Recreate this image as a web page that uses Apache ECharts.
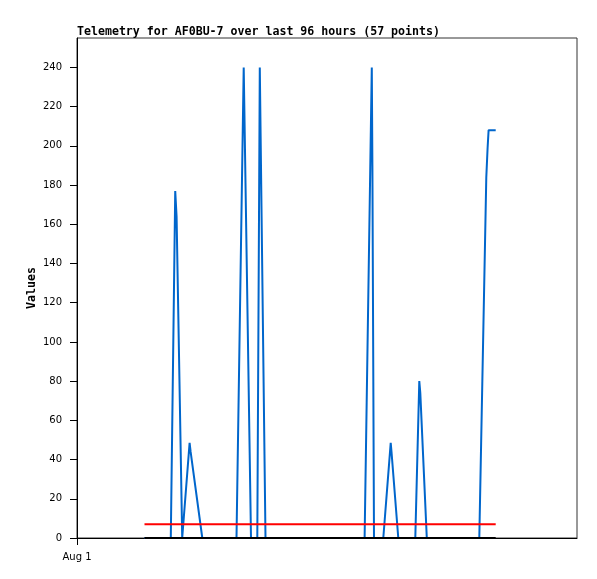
<!DOCTYPE html>
<html>
<head>
<meta charset="utf-8">
<script src="https://cdn.jsdelivr.net/npm/echarts@6/dist/echarts.min.js"></script>
<style>
html,body{margin:0;padding:0;background:#fff;}
#chart{width:597px;height:579px;}
</style>
</head>
<body>
<div id="chart"></div>
<script>
// hours since Aug 1 00:00
var times = [3.24, 4.502, 4.715, 4.78, 5.05, 5.102, 5.405, 5.453, 6.014,
  7.656, 8.002, 8.352, 8.654, 8.774, 9.048,
  13.805, 14.150, 14.179, 14.256, 14.702, 15.058, 15.096, 15.422,
  16.238, 16.430, 16.478, 16.790, 19.310, 19.646, 19.709, 19.757, 20.098];
var values = [0, 0, 177, 164, 0, 0, 48.5, 44, 0,
  0, 240, 0, 0, 240, 0,
  0, 240, 190, 0, 0, 48.5, 44, 0,
  0, 80, 74, 0, 0, 184, 199, 208, 208];
var thresholdValue = 7;
var baselineValue = 0;
var yTicks = [0, 20, 40, 60, 80, 100, 120, 140, 160, 180, 200, 220, 240];
var xTicks = [0];
var xTickLabels = ['Aug 1'];
var titleText = 'Telemetry for AF0BU-7 over last 96 hours (57 points)';

var series1 = times.map(function (t, i) { return [t, values[i]]; });
var tStart = times[0], tEnd = times[times.length - 1];

var chart = echarts.init(document.getElementById('chart'));
chart.setOption({
  animation: false,
  title: {
    text: titleText,
    left: 77, top: 26, padding: 0,
    textStyle: { fontFamily: 'DejaVu Sans Mono', fontWeight: 'bold', fontSize: 11.6, color: '#000' }
  },
  grid: { left: 77, top: 38, right: 20, bottom: 41, show: true, borderColor: '#333', borderWidth: 1 },
  xAxis: {
    type: 'value', min: 0, max: 24,
    axisLine: { lineStyle: { color: '#000', width: 1 } },
    axisTick: { show: true, length: 7, customValues: xTicks, lineStyle: { color: '#000' } },
    axisLabel: {
      customValues: xTicks, margin: 14,
      fontFamily: 'DejaVu Sans', fontSize: 10, color: '#000',
      formatter: function (v) { var i = xTicks.indexOf(v); return i >= 0 ? xTickLabels[i] : ''; }
    },
    splitLine: { show: false }
  },
  yAxis: {
    type: 'value', min: 0, max: 255,
    name: 'Values', nameLocation: 'middle', nameGap: 39, nameMoveOverlap: false,
    nameTextStyle: { fontFamily: 'DejaVu Sans Mono', fontWeight: 'bold', fontSize: 11.6, color: '#000' },
    axisLine: { show: true, lineStyle: { color: '#000', width: 1 } },
    axisTick: { show: true, length: 7, customValues: yTicks, lineStyle: { color: '#000' } },
    axisLabel: { customValues: yTicks, margin: 15, fontFamily: 'DejaVu Sans', fontSize: 10, color: '#000' },
    splitLine: { show: false }
  },
  series: [
    { type: 'line', data: series1, symbol: 'none', lineStyle: { color: '#0066cc', width: 2 }, z: 2 },
    { type: 'line', data: [[tStart, thresholdValue], [tEnd, thresholdValue]], symbol: 'none', lineStyle: { color: '#ff0000', width: 2 }, z: 3 },
    { type: 'line', data: [[tStart, baselineValue], [tEnd, baselineValue]], symbol: 'none', lineStyle: { color: '#000', width: 2 }, z: 4 }
  ]
});
</script>
</body>
</html>
